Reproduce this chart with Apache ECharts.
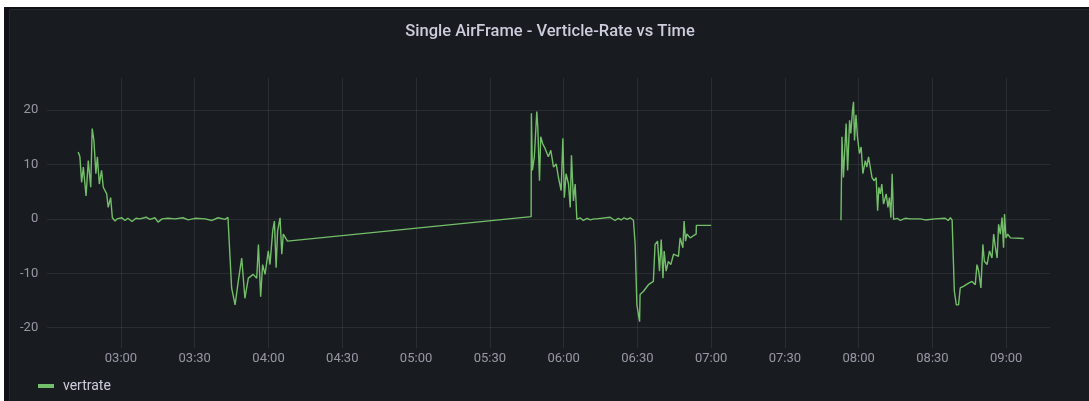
<!DOCTYPE html>
<html>
<head>
<meta charset="utf-8">
<script src="https://cdn.jsdelivr.net/npm/echarts@6/dist/echarts.min.js"></script>
<style>
  html, body { margin: 0; padding: 0; background: #ffffff; width: 1089px; height: 401px; overflow: hidden; }
  #outer { position: absolute; left: 4px; top: 7px; right: 0; bottom: 0; background: #111217; }
  #panel { position: absolute; left: 9px; top: 9px; right: 0; bottom: 0; background: #181b1f;
           border-top: 1px solid #24272c; border-left: 1px solid #24272c; border-radius: 2px 0 0 0; }
  #chart { position: absolute; left: 0; top: 0; width: 1089px; height: 401px; }
</style>
</head>
<body>
<div id="outer"></div>
<div id="panel"></div>
<div id="chart"></div>
<script>
// Time in minutes after 00:00, vertical rate values
const times = [
  162.6, 163.3, 164.0, 164.7, 165.8, 166.7, 167.7, 168.3, 169.0, 169.8, 170.4, 171.2, 172.1, 172.8, 174.2, 174.8, 175.8, 176.5, 177.6,
  178.4, 180.4, 181.6, 182.8, 184.5, 186.1, 187.7, 190.2, 191.8, 193.8, 195.1, 196.7, 199.1, 202.0, 205.2, 207.3, 210.1, 214.2, 217.0, 219.5, 222.3, 223.5, 224.3,
  225.0, 226.4, 227.7, 229.1, 230.4, 231.8, 233.8, 235.2, 235.9, 236.8, 237.6, 238.6, 239.9, 240.6, 241.7, 242.4, 243.1, 243.7, 244.7, 245.4, 246.0, 247.7,
  346.8,
  346.9, 347.3, 348.1, 349.1, 349.5, 350.2, 350.7, 351.5, 352.5, 353.8, 354.8, 355.9, 357.0, 357.9, 359.0, 359.7, 360.3, 361.0, 362.0, 362.7, 363.2, 364.0, 364.7, 365.4,
  366.7, 368.0, 369.6, 370.8, 372.4, 373.5, 373.6, 378.9, 379.7, 380.9, 382.2, 383.4, 384.6, 385.8, 387.1, 388.4,
  389.1, 389.8, 390.9, 391.1, 392.5, 394.5, 396.5, 397.2, 398.2, 399.0, 399.7, 400.4, 400.9, 401.7, 402.6, 403.6, 404.7, 406.7, 407.4, 408.5, 409.0, 409.6, 410.1, 411.5, 412.8, 413.9, 414.0, 420.0,
  446.0,
  472.8, 473.2, 473.8, 474.2, 474.9, 475.5, 476.3, 476.8, 477.5, 477.9, 478.3, 478.9, 479.5, 480.3, 481.0, 481.7, 482.7, 483.3, 484.0, 484.7, 485.4, 486.3, 487.1, 487.7, 488.2, 488.8, 489.4, 490.1, 491.2, 491.9, 492.5, 493.1, 493.6, 494.2,
  495.7, 496.9, 498.9, 501.0, 505.0, 507.1, 511.1, 515.2, 516.4, 517.3, 518.0,
  518.3, 518.9, 519.7, 520.6, 521.3, 522.6, 524.7, 526.1, 527.4, 528.1, 528.8, 529.7, 530.5, 531.1, 532.2, 533.2, 534.2, 534.9, 535.6, 536.3, 536.9, 537.6, 538.3, 538.9, 539.3, 539.9, 540.6, 541.7, 547.1
];
const vertrate = [
  12.3, 11.4, 6.7, 9.5, 4.2, 10.7, 5.8, 16.6, 14.4, 8.3, 11.4, 6.4, 8.9, 5.8, 4.6, 2.1, 3.9, 0.2, -0.4,
  0, 0.2, -0.3, 0.1, -0.5, 0.1, 0, 0.3, -0.1, 0.2, -0.6, 0, 0.1, 0, 0.2, -0.2, 0.1, 0, -0.3, 0.2, -0.1, 0.3, 0.1,
  -12.7, -15.8, -11.5, -7.2, -14.6, -10.9, -10.2, -10.9, -4.7, -14.3, -8.4, -10.2, -5.9, -8.4, -2.2, -0.4, -9.0, -2.2, 0.2, -6.5, -2.8, -4.1,
  0.4,
  19.4, 8.9, 11.4, 19.7, 16.9, 7.0, 15.1, 13.8, 12.9, 11.4, 12.6, 9.5, 10.1, 7.6, 5.2, 14.8, 3.9, 8.3, 6.4, 2.1, 11.7, 3.3, 6.4, -0.1,
  0.2, -0.3, 0.1, -0.2, 0, 0, 0.3, 0.3, 0, -0.3, 0.1, -0.2, 0.2, -0.1, 0.2, -0.25,
  -4.7, -15.8, -18.9, -13.9, -13.3, -12.1, -11.5, -4.7, -4.1, -9.6, -3.8, -10.9, -5.9, -9.6, -7.8, -8.4, -6.5, -6.9, -3.5, -5.3, -0.4, -4.1, -2.8, -3.5, -3.1, -2.8, -1.2, -1.2,
  null,
  -0.25, 15.1, 7.6, 11.4, 17.5, 8.9, 18.1, 15.7, 20.0, 21.5, 14.4, 19.1, 15.1, 12.0, 13.2, 8.3, 10.7, 9.5, 11.4, 9.5, 7.6, 7.0, 7.6, 1.5, 5.8, 4.6, 6.4, 2.7, 4.6, 2.1, 3.9, 0.2, 8.3, -0.1,
  0.1, -0.3, 0.1, 0, 0, -0.2, 0, 0.1, -0.3, 0.2, -0.25,
  -4.7, -13.3, -15.8, -15.8, -12.7, -12.4, -11.8, -11.5, -12.1, -8.4, -9.6, -12.7, -4.7, -7.8, -8.4, -5.9, -7.2, -2.8, -5.3, -7.2, -1.0, -2.8, 0.25, -5.3, 0.9, -3.5, -2.8, -3.5, -3.6
];
const titleText = 'Single AirFrame - Verticle-Rate vs Time';
const seriesName = 'vertrate';

const data = times.map((t, i) => [t, vertrate[i]]);
function fmtTime(v) {
  const h = Math.floor(v / 60), m = Math.round(v % 60);
  return String(h).padStart(2, '0') + ':' + String(m).padStart(2, '0');
}

const textColor = 'rgba(204,204,220,0.7)';
const gridColor = 'rgba(204,204,220,0.1)';
const chart = echarts.init(document.getElementById('chart'), null, { renderer: 'canvas' });
chart.setOption({
  backgroundColor: 'transparent',
  animation: false,
  textStyle: { fontFamily: 'Roboto' },
  title: {
    text: titleText,
    left: 545, top: 18, textAlign: 'center',
    textStyle: { color: '#ccccdc', fontSize: 16.5, fontWeight: 500, fontFamily: 'Roboto' }
  },
  legend: {
    left: 33, top: 374,
    icon: 'rect', itemWidth: 16, itemHeight: 4, itemGap: 10,
    textStyle: { color: '#ccccdc', fontSize: 14, fontFamily: 'Roboto', padding: [0, 0, 0, 4] },
    data: [seriesName]
  },
  grid: { left: 47.2, right: 39, top: 78, bottom: 53, containLabel: false },
  xAxis: {
    type: 'value', min: 150, max: 557.8, interval: 30,
    axisLine: { show: false }, axisTick: { show: false },
    axisLabel: { color: textColor, fontSize: 13, margin: 4, showMinLabel: false, showMaxLabel: false,
                 formatter: fmtTime, fontFamily: 'Roboto' },
    splitLine: { show: true, showMinLine: false, showMaxLine: false, lineStyle: { color: gridColor, width: 1 } }
  },
  yAxis: {
    type: 'value', min: -23.73, max: 25.88, splitNumber: 5,
    axisLine: { show: false }, axisTick: { show: false },
    axisLabel: { color: textColor, fontSize: 13, margin: 9, showMinLabel: false, showMaxLabel: false, fontFamily: 'Roboto' },
    splitLine: { show: true, showMinLine: false, showMaxLine: false, lineStyle: { color: gridColor, width: 1 } }
  },
  series: [{
    name: seriesName, type: 'line', data: data,
    showSymbol: false, symbol: 'none', connectNulls: false,
    lineStyle: { color: '#73bf69', width: 1.4 },
    itemStyle: { color: '#73bf69' }
  }]
});
</script>
</body>
</html>
